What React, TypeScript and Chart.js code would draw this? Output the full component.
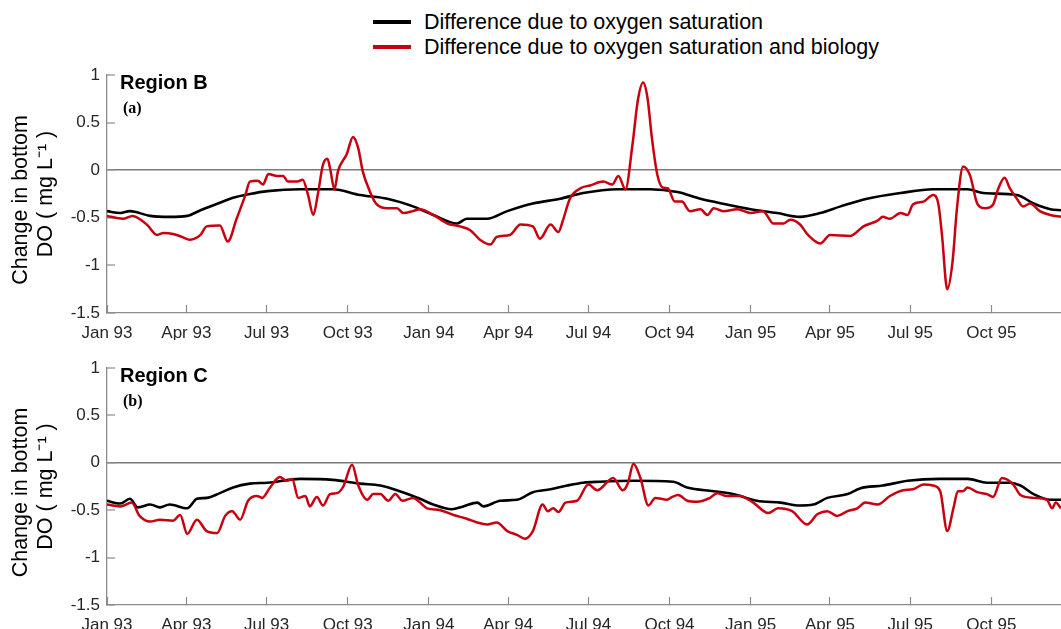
import React, { useEffect, useRef } from 'react';
import { Chart, registerables } from 'chart.js';

Chart.register(...registerables);

// ---- Data (x = days since 1 Jan 1993, y = change in bottom DO, mg/L) ----
const tickDays = [0, 90, 181, 273, 365, 455, 546, 638, 730, 820, 911, 1003];
const tickLabels = ['Jan 93', 'Apr 93', 'Jul 93', 'Oct 93', 'Jan 94', 'Apr 94', 'Jul 94', 'Oct 94', 'Jan 95', 'Apr 95', 'Jul 95', 'Oct 95'];
const yTickValues = [-1.5, -1, -0.5, 0, 0.5, 1];
const yTickLabels = ['-1.5', '-1', '-0.5', '0', '0.5', '1'];
const lastDay = 1082;

const seriesNames = ['Difference due to oxygen saturation', 'Difference due to oxygen saturation and biology'];

const regionBSaturation: [number, number][] = [
  [0, -0.43], [15, -0.45], [26, -0.43], [49, -0.48], [71, -0.49], [91, -0.48], [106, -0.42], [123, -0.36],
  [143, -0.29], [162, -0.25], [182, -0.22], [219, -0.2], [256, -0.2], [287, -0.26], [318, -0.3], [347, -0.38],
  [370, -0.47], [397, -0.56], [408, -0.51], [431, -0.51], [454, -0.43], [483, -0.35], [514, -0.3], [540, -0.24],
  [579, -0.2], [616, -0.2], [647, -0.23], [673, -0.3], [703, -0.36], [730, -0.41], [760, -0.45], [786, -0.49],
  [809, -0.45], [832, -0.38], [862, -0.3], [900, -0.24], [937, -0.2], [976, -0.2], [994, -0.24], [1032, -0.26],
  [1051, -0.35], [1070, -0.41], [1082, -0.42],
];

const regionBBiology: [number, number][] = [
  [0, -0.48], [18, -0.51], [29, -0.48], [45, -0.57], [57, -0.68], [64, -0.66], [75, -0.67], [85, -0.7], [94, -0.73], [106, -0.68],
  [113, -0.59], [128, -0.58], [137, -0.75], [147, -0.51], [157, -0.26], [162, -0.12], [171, -0.11], [177, -0.15], [183, -0.04], [193, -0.06],
  [200, -0.06], [205, -0.12], [216, -0.12], [222, -0.1], [228, -0.26], [234, -0.47], [239, -0.26], [245, 0.06], [250, 0.12], [253, 0.02],
  [258, -0.2], [262, -0.01], [272, 0.17], [279, 0.35], [285, 0.23], [290, -0.01], [298, -0.22], [306, -0.36], [318, -0.4], [329, -0.4],
  [336, -0.45], [347, -0.43], [355, -0.41], [370, -0.47], [386, -0.56], [400, -0.59], [412, -0.63], [423, -0.73], [435, -0.78], [442, -0.7],
  [457, -0.68], [469, -0.57], [483, -0.59], [491, -0.72], [503, -0.57], [512, -0.65], [517, -0.53], [525, -0.3], [537, -0.19], [548, -0.16],
  [563, -0.12], [573, -0.15], [580, -0.06], [588, -0.2], [596, 0.27], [602, 0.73], [608, 0.92], [613, 0.76], [618, 0.34], [624, -0.04],
  [630, -0.18], [636, -0.19], [644, -0.33], [652, -0.33], [661, -0.43], [673, -0.41], [681, -0.47], [688, -0.4], [699, -0.43], [715, -0.41],
  [730, -0.45], [744, -0.43], [756, -0.56], [767, -0.56], [775, -0.52], [786, -0.57], [795, -0.68], [809, -0.77], [820, -0.68], [843, -0.69],
  [858, -0.59], [874, -0.53], [880, -0.49], [888, -0.51], [900, -0.45], [908, -0.47], [914, -0.36], [926, -0.33], [937, -0.26], [943, -0.36],
  [947, -0.68], [953, -1.25], [959, -0.96], [964, -0.4], [971, 0.04], [979, -0.06], [987, -0.35], [996, -0.4], [1005, -0.36], [1011, -0.19],
  [1018, -0.08], [1024, -0.19], [1032, -0.3], [1039, -0.38], [1047, -0.35], [1058, -0.43], [1070, -0.47], [1082, -0.49],
];

const regionCSaturation: [number, number][] = [
  [0, -0.4], [15, -0.43], [26, -0.38], [35, -0.47], [49, -0.44], [60, -0.47], [71, -0.44], [91, -0.48], [102, -0.38], [113, -0.37],
  [128, -0.32], [143, -0.26], [162, -0.22], [182, -0.21], [219, -0.17], [256, -0.18], [287, -0.22], [310, -0.24], [332, -0.3], [355, -0.38],
  [370, -0.44], [391, -0.49], [404, -0.46], [420, -0.42], [427, -0.46], [446, -0.4], [465, -0.39], [483, -0.31], [503, -0.28], [522, -0.24],
  [540, -0.21], [559, -0.2], [597, -0.19], [642, -0.2], [658, -0.26], [688, -0.3], [710, -0.33], [737, -0.4], [764, -0.42], [786, -0.45],
  [801, -0.44], [817, -0.37], [840, -0.33], [854, -0.27], [880, -0.24], [908, -0.19], [945, -0.17], [976, -0.17], [998, -0.21], [1024, -0.21],
  [1036, -0.24], [1051, -0.33], [1070, -0.39], [1082, -0.39],
];

const regionCBiology: [number, number][] = [
  [0, -0.44], [15, -0.46], [28, -0.42], [37, -0.56], [49, -0.62], [60, -0.6], [75, -0.61], [83, -0.55], [91, -0.75], [102, -0.6],
  [113, -0.72], [125, -0.74], [134, -0.56], [142, -0.51], [151, -0.6], [160, -0.4], [170, -0.35], [176, -0.37], [185, -0.26], [196, -0.15],
  [204, -0.19], [210, -0.17], [217, -0.37], [225, -0.35], [230, -0.46], [238, -0.36], [245, -0.45], [253, -0.33], [261, -0.32], [268, -0.25],
  [278, -0.02], [285, -0.24], [295, -0.39], [302, -0.33], [310, -0.33], [319, -0.4], [327, -0.33], [335, -0.4], [347, -0.37], [363, -0.48],
  [378, -0.5], [393, -0.55], [408, -0.59], [420, -0.63], [431, -0.65], [442, -0.63], [454, -0.72], [465, -0.76], [474, -0.8], [483, -0.72],
  [494, -0.44], [500, -0.51], [506, -0.48], [512, -0.52], [520, -0.42], [533, -0.4], [546, -0.23], [556, -0.29], [574, -0.16], [585, -0.29],
  [591, -0.21], [597, -0.01], [605, -0.16], [614, -0.45], [622, -0.37], [635, -0.39], [641, -0.36], [648, -0.34], [658, -0.4], [669, -0.41],
  [684, -0.37], [692, -0.32], [703, -0.35], [718, -0.35], [733, -0.42], [750, -0.53], [761, -0.48], [777, -0.51], [794, -0.65], [806, -0.54],
  [817, -0.51], [828, -0.56], [840, -0.51], [851, -0.48], [860, -0.42], [874, -0.44], [888, -0.35], [903, -0.29], [914, -0.28], [926, -0.23],
  [937, -0.24], [945, -0.3], [953, -0.72], [960, -0.48], [965, -0.3], [971, -0.3], [976, -0.26], [987, -0.31], [998, -0.33], [1005, -0.36],
  [1015, -0.16], [1028, -0.23], [1036, -0.34], [1051, -0.37], [1066, -0.39], [1072, -0.48], [1076, -0.42], [1082, -0.48],
];

// ---- Styling ----
const SANS = '"Liberation Sans", Arial, Helvetica, sans-serif';
const SERIF = '"Liberation Serif", "Times New Roman", serif';
const RED = '#c8000f';
const BLACK = '#000000';
const AXIS_GRAY = '#8c8c8c';
const ZERO_GRAY = '#7a7a7a';
const TICK_TEXT = '#262626';

const panelLabelPlugin = {
  id: 'panelLabel',
  afterDraw(chart: any, _args: any, opts: any) {
    const { ctx, chartArea } = chart;
    ctx.save();
    ctx.fillStyle = '#000';
    ctx.textAlign = 'left';
    ctx.textBaseline = 'middle';
    ctx.font = `bold 20px ${SANS}`;
    ctx.fillText(opts.region, chartArea.left + 13, chartArea.top + 8);
    ctx.font = `bold 16px ${SERIF}`;
    ctx.fillText(opts.letter, chartArea.left + 16, chartArea.top + 34);
    ctx.restore();
  },
};

function toPoints(series: [number, number][]) {
  return series.map(([x, y]) => ({ x, y }));
}

function makeConfig(sat: [number, number][], bio: [number, number][], region: string, letter: string, padTop: number, xAxisHeight: number): any {
  return {
    type: 'line',
    data: {
      datasets: [
        {
          label: seriesNames[1],
          data: toPoints(bio),
          borderColor: RED,
          borderWidth: 2.5,
          pointRadius: 0,
          tension: 0.4,
          cubicInterpolationMode: 'monotone',
        },
        {
          label: seriesNames[0],
          data: toPoints(sat),
          borderColor: BLACK,
          borderWidth: 2.6,
          pointRadius: 0,
          tension: 0.4,
          cubicInterpolationMode: 'monotone',
        },
      ],
    },
    options: {
      animation: false,
      responsive: false,
      maintainAspectRatio: false,
      layout: { padding: { top: padTop, left: 0, right: 0, bottom: 0 } },
      plugins: {
        legend: { display: false },
        tooltip: { enabled: false },
        panelLabel: { region, letter },
      },
      scales: {
        x: {
          type: 'linear',
          min: 0,
          max: lastDay,
          afterBuildTicks: (scale: any) => {
            scale.ticks = tickDays.map((v) => ({ value: v }));
          },
          afterFit: (scale: any) => {
            scale.height = xAxisHeight;
            scale.paddingLeft = 0;
            scale.paddingRight = 0;
          },
          ticks: {
            autoSkip: false,
            maxRotation: 0,
            padding: 18,
            color: TICK_TEXT,
            font: { family: SANS, size: 17 },
            callback: (value: number) => {
              const i = tickDays.indexOf(value);
              return i >= 0 ? tickLabels[i] : '';
            },
          },
          grid: {
            drawOnChartArea: false,
            drawTicks: true,
            tickLength: -8,
            tickColor: AXIS_GRAY,
            tickWidth: 1.2,
          },
          border: { display: true, color: AXIS_GRAY, width: 1.3 },
        },
        y: {
          type: 'linear',
          min: -1.5,
          max: 1,
          afterBuildTicks: (scale: any) => {
            scale.ticks = yTickValues.map((v) => ({ value: v }));
          },
          afterFit: (scale: any) => {
            scale.width = 107;
            scale.paddingTop = 0;
            scale.paddingBottom = 0;
          },
          ticks: {
            padding: 15,
            color: TICK_TEXT,
            font: { family: SANS, size: 17 },
            callback: (value: number) => {
              const i = yTickValues.indexOf(value);
              return i >= 0 ? yTickLabels[i] : '';
            },
          },
          grid: {
            drawOnChartArea: true,
            drawTicks: true,
            tickLength: -8,
            color: (ctx: any) => (ctx.tick && ctx.tick.value === 0 ? ZERO_GRAY : 'rgba(0,0,0,0)'),
            lineWidth: (ctx: any) => (ctx.tick && ctx.tick.value === 0 ? 1.5 : 0),
            tickColor: AXIS_GRAY,
            tickWidth: 1.2,
          },
          border: { display: true, color: AXIS_GRAY, width: 1.3 },
          title: {
            display: true,
            text: ['Change in bottom  ', 'DO ( mg L\u207B\u00B9 )'],
            color: '#000',
            font: { family: SANS, size: 21.5, lineHeight: 1.163 },
            padding: { top: 8.5, bottom: 0 },
          },
        },
      },
    },
    plugins: [panelLabelPlugin],
  };
}

function Panel(props: { sat: [number, number][]; bio: [number, number][]; region: string; letter: string; top: number; height: number; padTop: number; xAxisHeight: number }) {
  const ref = useRef<HTMLCanvasElement>(null);
  useEffect(() => {
    if (!ref.current) return;
    const chart = new Chart(ref.current, makeConfig(props.sat, props.bio, props.region, props.letter, props.padTop, props.xAxisHeight));
    return () => chart.destroy();
  }, []);
  return (
    <canvas
      ref={ref}
      width={1061}
      height={props.height}
      style={{ position: 'absolute', left: 0, top: props.top, width: 1061, height: props.height }}
    />
  );
}

function LegendRow(props: { color: string; text: string; top: number }) {
  return (
    <div style={{ position: 'absolute', left: 0, top: props.top, width: 1061, height: 26 }}>
      <div style={{ position: 'absolute', left: 373, top: 11, width: 38, height: 4, background: props.color }} />
      <div
        style={{
          position: 'absolute',
          left: 424,
          top: 0,
          height: 26,
          lineHeight: '26px',
          fontFamily: SANS,
          fontSize: 21.5,
          color: '#000',
          whiteSpace: 'nowrap',
        }}
      >
        {props.text}
      </div>
    </div>
  );
}

export default function App() {
  return (
    <div style={{ position: 'absolute', left: 0, top: 0, width: 1061, height: 629, background: '#fff', overflow: 'hidden' }}>
      <LegendRow color={BLACK} text={seriesNames[0]} top={9} />
      <LegendRow color={RED} text={seriesNames[1]} top={34} />
      <Panel sat={regionBSaturation} bio={regionBBiology} region="Region B" letter="(a)" top={60} height={280} padTop={15} xAxisHeight={27} />
      <Panel sat={regionCSaturation} bio={regionCBiology} region="Region C" letter="(b)" top={350} height={279} padTop={18} xAxisHeight={24} />
    </div>
  );
}
